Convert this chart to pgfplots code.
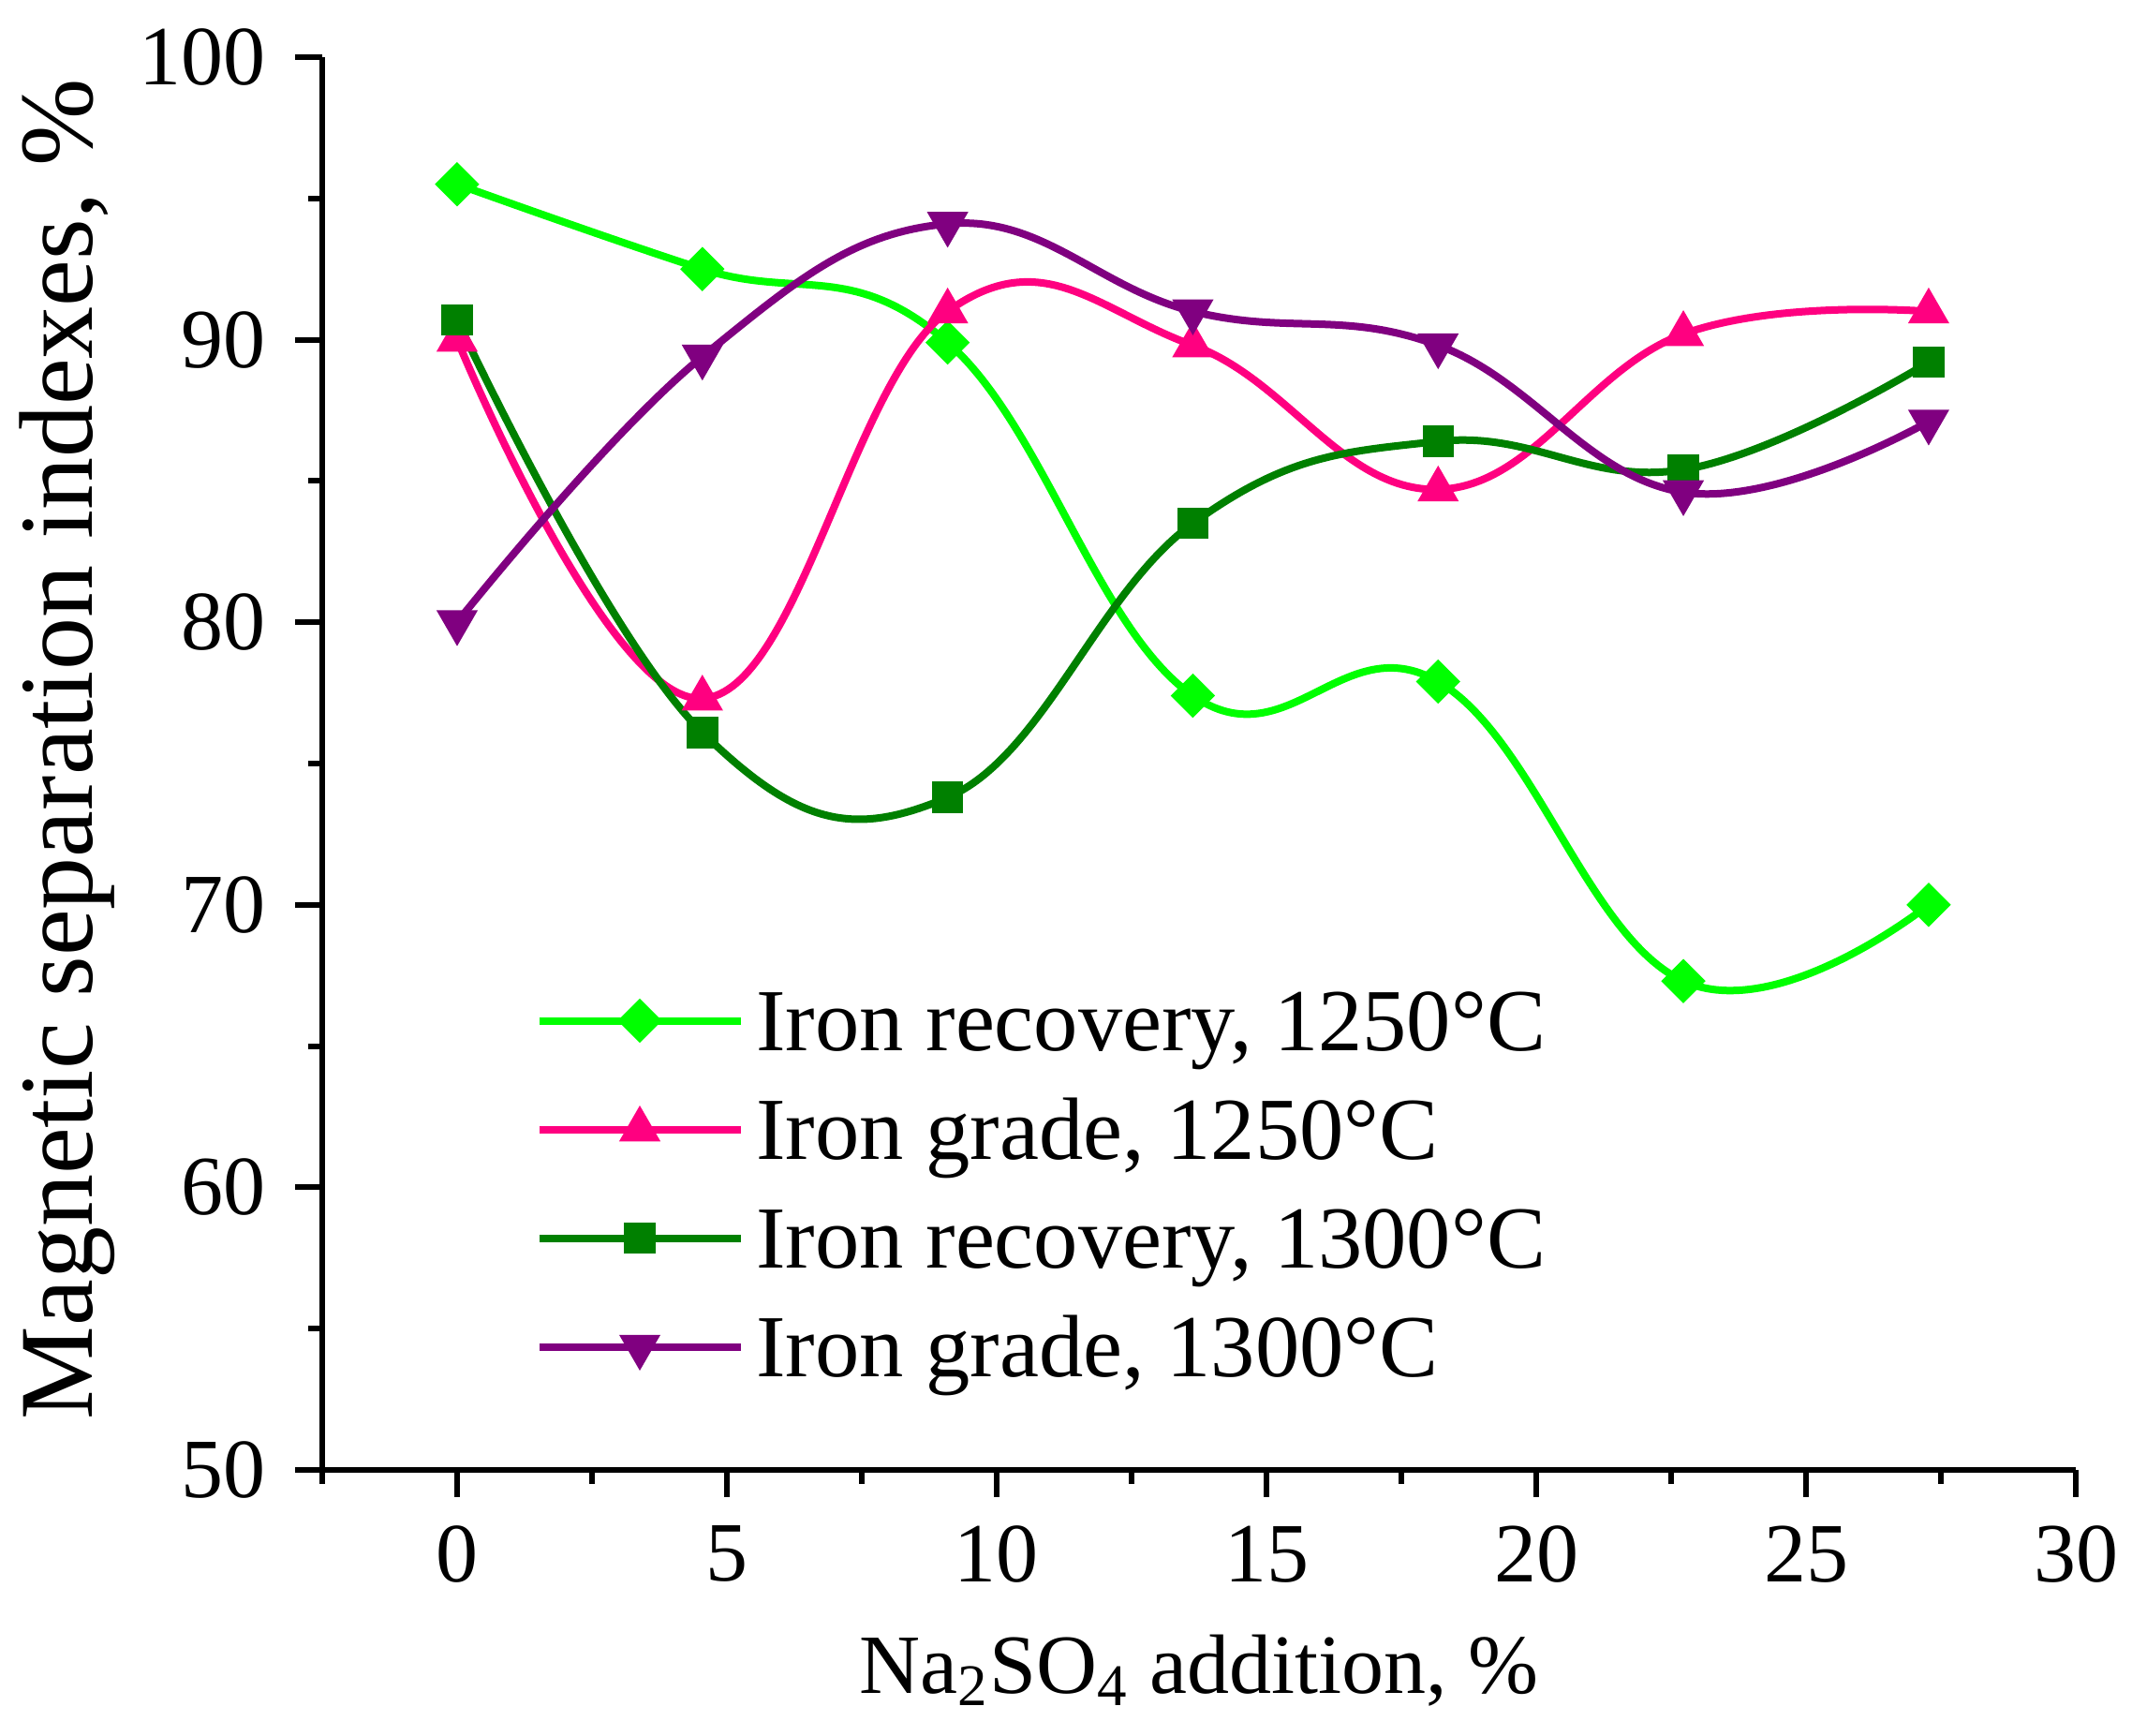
\documentclass[border=0pt]{standalone}
\usepackage{pgfplots}
\pgfplotsset{compat=1.18}
\usepackage{fontspec}
\setmainfont{Liberation Serif}
\definecolor{cA}{HTML}{00FF00}
\definecolor{cB}{HTML}{FF0080}
\definecolor{cC}{HTML}{008000}
\definecolor{cD}{HTML}{800080}
\begin{document}
\fontsize{18}{21.6}\selectfont
\begin{tikzpicture}
\begin{axis}[
 scale only axis, width=374.4pt, height=301.6pt,
 xmin=-2.5, xmax=30, ymin=50, ymax=100,
 axis x line*=bottom, axis y line*=left,
 axis line style={line width=1.2pt, -},
 xtick={0,5,...,30}, ytick={50,60,...,100},
 minor xtick={-2.5,2.5,7.5,12.5,17.5,22.5,27.5},
 minor ytick={55,65,75,85,95},
 tick align=outside,
 major tick length=5.8pt, minor tick length=3pt,
 every tick/.style={line width=1.2pt, black},
 tick label style={font=\fontsize{18}{21.6}\selectfont},
 /pgf/number format/assume math mode=true,
 xlabel={Na\textsubscript{2}SO\textsubscript{4} addition, \%},
 ylabel={Magnetic separation indexes, \%},
 xlabel style={font=\fontsize{18}{21.6}\selectfont, at={(axis description cs:0.5,-0.158)}, anchor=base},
 ylabel style={font=\fontsize{22.4}{26}\selectfont, at={(axis description cs:-0.1314,0.51)}, anchor=base},
 legend style={draw=none, fill=none, at={(axis description cs:0.121,0.3405)}, anchor=north west,
   font=\fontsize{18.9}{22.8}\selectfont, row sep=6pt, inner sep=0pt,
   nodes={inner sep=0pt, text height=13pt, text depth=4.2pt},
   /tikz/every odd column/.style={column sep=2.6pt}},
 legend cell align=left,
 legend image code/.code={\draw[mark repeat=2,mark phase=2,#1] plot coordinates {(0pt,2pt) (21.5pt,2pt) (43pt,2pt)};},
 every axis plot/.append style={line width=1.6pt, smooth, tension=0.7},
]
\addplot[cA, mark=square*, mark size=3.2pt, mark options={rotate=45, line width=0.3pt, solid}] coordinates {
 (0,95.5) (4.545,92.5) (9.091,89.9) (13.636,77.4) (18.182,77.9) (22.727,67.3) (27.273,70.0)};
\addlegendentry{Iron recovery, 1250°C}
\addplot[cB, mark=triangle*, mark size=4.8pt, mark options={line width=0.3pt, solid}] coordinates {
 (0,90.0) (4.545,77.3) (9.091,91.0) (13.636,89.8) (18.182,84.7) (22.727,90.2) (27.273,91.0)};
\addlegendentry{Iron grade, 1250°C}
\addplot[cC, mark=square*, mark size=3.2pt, mark options={line width=0.3pt, solid}] coordinates {
 (0,90.7) (4.545,76.1) (9.091,73.8) (13.636,83.5) (18.182,86.4) (22.727,85.4) (27.273,89.2)};
\addlegendentry{Iron recovery, 1300°C}
\addplot[cD, mark=triangle*, mark size=4.8pt, mark options={rotate=180, line width=0.3pt, solid}] coordinates {
 (0,80.0) (4.545,89.4) (9.091,94.1) (13.636,91.0) (18.182,89.8) (22.727,84.6) (27.273,87.1)};
\addlegendentry{Iron grade, 1300°C}
\end{axis}
\pgfresetboundingbox
\path[use as bounding box] ([shift={(-68.8pt,-56.8pt)}]current axis.south west) rectangle ([shift={(12pt,12.2pt)}]current axis.north east);
\end{tikzpicture}
\end{document}
